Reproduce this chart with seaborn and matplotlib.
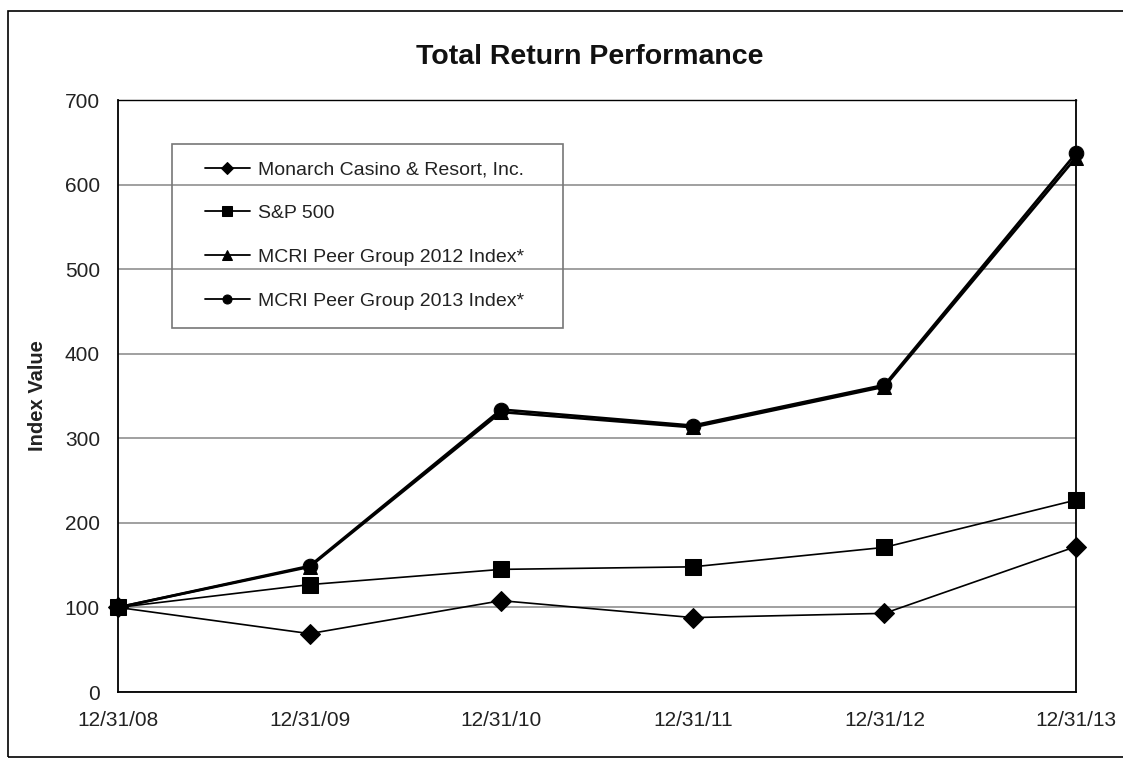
import pandas as pd
import matplotlib.pyplot as plt
import seaborn as sns
from matplotlib.patches import Rectangle

# Data
dates = ["12/31/08", "12/31/09", "12/31/10", "12/31/11", "12/31/12", "12/31/13"]
monarch = [100, 69, 108, 88, 93, 172]
sp500 = [100, 127, 145, 148, 171, 227]
peer_2012 = [100, 148, 331, 313, 361, 632]
peer_2013 = [100, 149, 334, 315, 363, 637]

series = [
    ("Monarch Casino & Resort, Inc.", monarch, "D", 10, 1.2),
    ("S&P 500", sp500, "s", 11, 1.2),
    ("MCRI Peer Group 2012 Index*", peer_2012, "^", 10, 1.9),
    ("MCRI Peer Group 2013 Index*", peer_2013, "o", 10.5, 1.9),
]

sns.set_style("white")
plt.rcParams["font.family"] = ["Liberation Sans", "DejaVu Sans"]

W, H = 1123, 760
fig = plt.figure(figsize=(11.23, 7.6), dpi=100)
ax = fig.add_axes([118 / W, 1 - 692 / H, (1076 - 118) / W, (692 - 100) / H])

for name, vals, mk, ms, lw in series:
    df = pd.DataFrame({"x": range(len(dates)), "y": vals})
    sns.lineplot(data=df, x="x", y="y", ax=ax, color="black", marker=mk,
                 markersize=ms, linewidth=lw, markeredgecolor="black",
                 label=name, clip_on=False, zorder=3)

ax.set_xlim(0, len(dates) - 1)
ax.set_ylim(0, 700)
ax.set_yticks(range(0, 701, 100))
ax.set_xticks(range(len(dates)))
ax.set_xticklabels(dates)
ax.tick_params(axis="both", labelsize=15, colors="black", labelcolor="#222222")
ax.tick_params(axis="x", direction="inout", length=9, width=1.2, pad=9)
ax.tick_params(axis="y", direction="out", length=4, width=1.2, pad=9)
ax.set_xlabel("")
ax.set_ylabel("Index Value", fontsize=14.5, fontweight="bold", labelpad=13,
              color="#222222")
ax.yaxis.grid(True, color="#999999", linewidth=1.3)
ax.set_axisbelow(True)

for side in ["left", "bottom", "right", "top"]:
    ax.spines[side].set_visible(True)
    ax.spines[side].set_color("black")
    ax.spines[side].set_linewidth(1.3)
ax.spines["top"].set_linewidth(1.0)

fig.text(590 / W, 1 - 57 / H, "Total Return Performance", ha="center",
         va="center", fontsize=20.5, fontweight="bold", color="#111111")

# legend box drawn separately, entries placed inside it
ax.add_patch(Rectangle((172 / W, 1 - 328 / H), (563 - 172) / W, (328 - 144) / H,
                       transform=fig.transFigure, fill=False,
                       edgecolor="#777777", linewidth=1.2, zorder=4))
leg = ax.legend(loc="upper left", bbox_to_anchor=(205 / W, 1 - 161 / H),
                bbox_transform=fig.transFigure, frameon=False, fontsize=14,
                handlelength=2.3, labelspacing=1.34, borderpad=0,
                handletextpad=0.41, borderaxespad=0)
for t in leg.get_texts():
    t.set_color("#222222")
for h in leg.legend_handles:
    h.set_linewidth(1.3)
    h.set_markersize(6.5)

fig.patches.append(Rectangle((8 / W, 3 / H), 1.1, 1 - 14 / H,
                             transform=fig.transFigure, fill=False,
                             edgecolor="black", linewidth=1.2))

fig.savefig("out.png", dpi=100)
